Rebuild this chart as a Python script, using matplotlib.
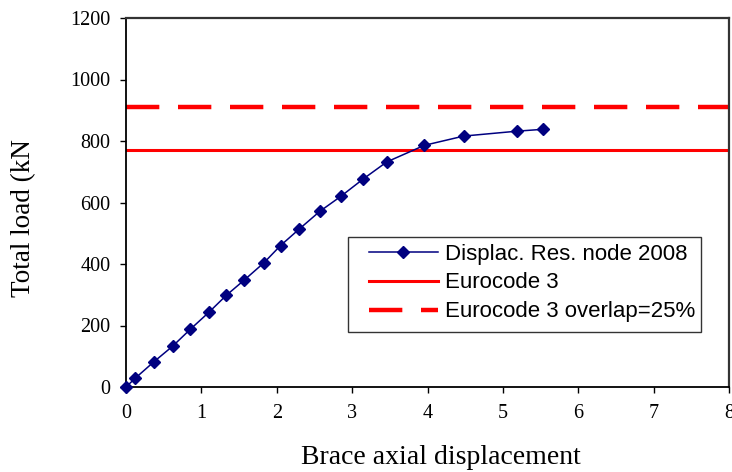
import numpy as np
import matplotlib.pyplot as plt
from matplotlib.patches import Rectangle

# displacement / load curve of node 2008
disp = [0.0, 0.12, 0.37, 0.62, 0.85, 1.10, 1.33, 1.57, 1.83, 2.05, 2.30,
        2.57, 2.85, 3.15, 3.46, 3.96, 4.48, 5.19, 5.53]
load = [0, 28, 82, 133, 187, 243, 298, 348, 404, 460, 514,
        571, 620, 677, 732, 786, 816, 832, 838]

# design resistances
ec3_load = 770
ec3_overlap_load = 910

x_ticks = np.arange(0, 9, 1)
y_ticks = np.arange(0, 1201, 200)

plt.rcParams['font.family'] = 'Liberation Serif'

W, H = 732, 472
fig = plt.figure(figsize=(W / 100, H / 100), dpi=100)
ax = fig.add_axes([126 / W, 1 - 387 / H, (729 - 126) / W, (387 - 18) / H])

ax.plot(disp, load, color='#000080', lw=1.1, marker='D', ms=6.5,
        label='Displac. Res. node 2008', clip_on=False, zorder=4)
ax.axhline(ec3_load, color='#ff0000', lw=2.2, label='Eurocode 3')
ax.axhline(ec3_overlap_load, color='#ff0000', lw=3.2, ls=(0, (7.5, 4.2)),
           label='Eurocode 3 overlap=25%')

ax.set_xlim(0, 8)
ax.set_ylim(0, 1200)
ax.set_xticks(x_ticks)
ax.set_yticks(y_ticks)
ax.tick_params(direction='out', length=4, width=1, labelsize=14.5)
ax.tick_params(axis='y', pad=7)
ax.tick_params(axis='x', pad=8)
for sp in ['left', 'bottom']:
    ax.spines[sp].set_linewidth(1.3)
for sp in ['top', 'right']:
    ax.spines[sp].set_linewidth(1.6)
    ax.spines[sp].set_color('#333333')

# legend box drawn separately so the inner padding can be wider than the top/bottom
box = Rectangle((348 / W, 1 - 332 / H), 353 / W, 95 / H, transform=fig.transFigure,
                facecolor='white', edgecolor='#333333', lw=1.0, zorder=5, clip_on=False)
ax.add_patch(box)
leg = ax.legend(loc='center left', bbox_to_anchor=(369 / W, 1 - 283 / H),
                bbox_transform=fig.transFigure,
                prop={'family': 'Liberation Sans', 'size': 16}, frameon=False,
                handlelength=3.1, handletextpad=0.3,
                labelspacing=0.35, borderpad=0, borderaxespad=0)
leg.set_zorder(6)

fig.text(0.032, 1 - 218 / H, 'Total load (kN', rotation=90, ha='center', va='center',
         fontsize=19.5)
fig.text(441 / W, 1 - 457 / H, 'Brace axial displacement', ha='center', va='center',
         fontsize=20)

fig.savefig('out.png', dpi=100)
